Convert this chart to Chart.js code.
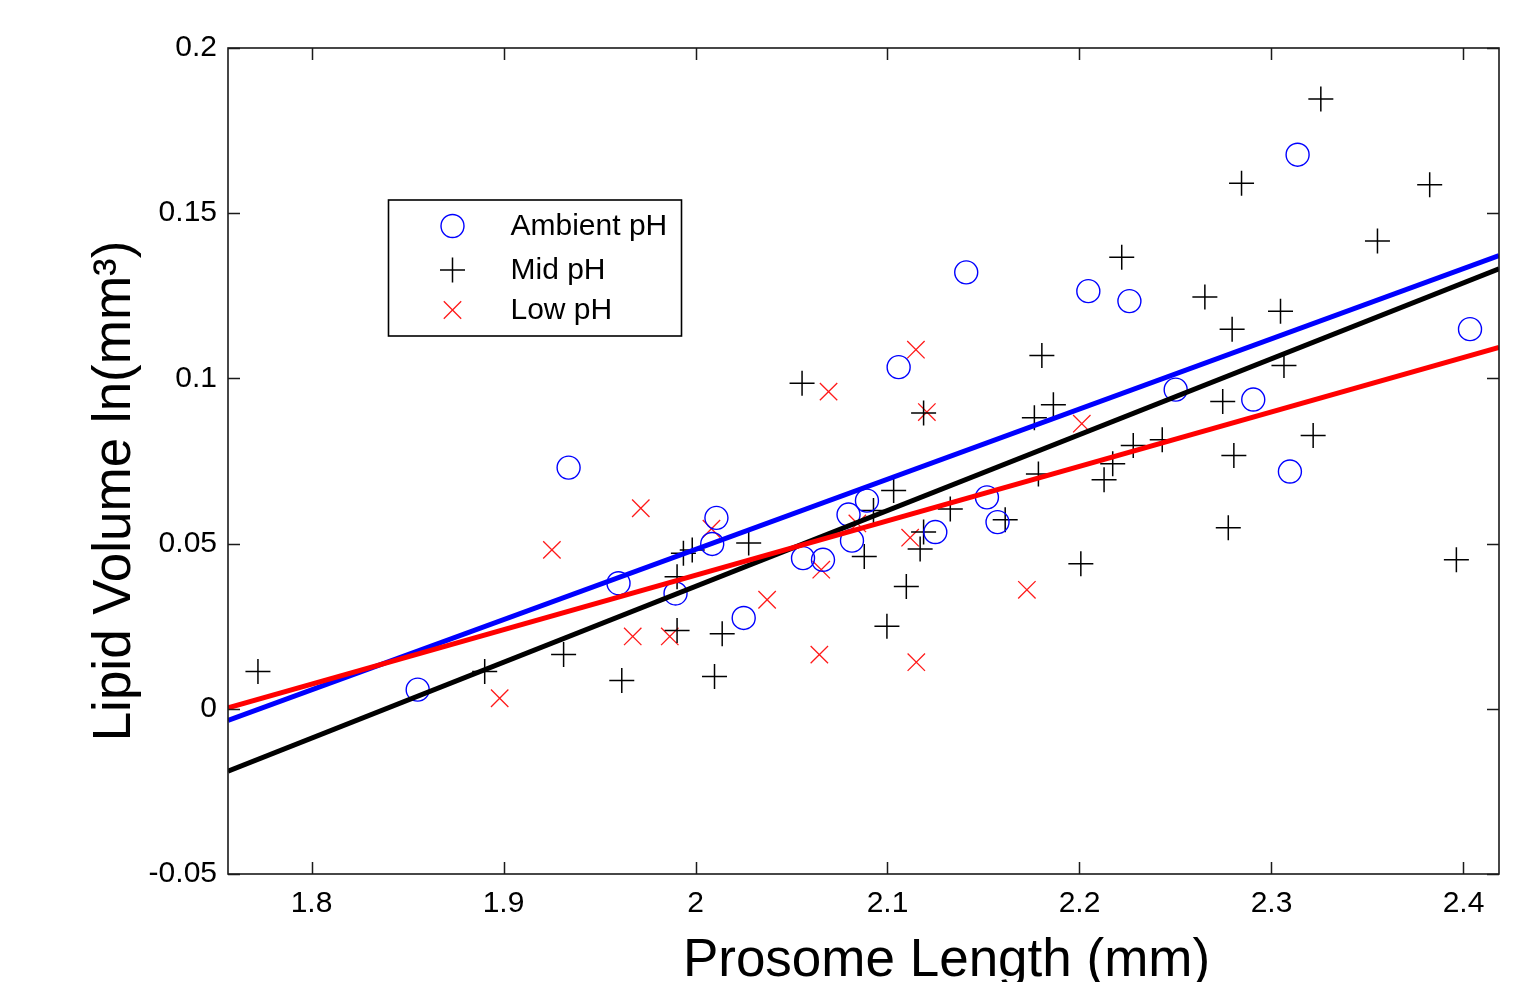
<!DOCTYPE html>
<html>
<head>
<meta charset="utf-8">
<script src="https://cdn.jsdelivr.net/npm/chart.js@4/dist/chart.umd.min.js"></script>
<style>
  html, body { margin: 0; padding: 0; background: #ffffff; }
  #wrap { width: 1531px; height: 982px; }
</style>
</head>
<body>
<div id="wrap"><canvas id="c" width="1531" height="982"></canvas></div>
<script>
// ---- Data ----
const xTicks = [1.8, 1.9, 2, 2.1, 2.2, 2.3, 2.4];
const xTickLabels = ['1.8', '1.9', '2', '2.1', '2.2', '2.3', '2.4'];
const yTicks = [-0.05, 0, 0.05, 0.1, 0.15, 0.2];
const yTickLabels = ['-0.05', '0', '0.05', '0.1', '0.15', '0.2'];
const xRange = [1.7565, 2.4185];
const yRange = [-0.05, 0.2];

const ambientX = [1.8553, 1.9339, 1.9599, 1.9896, 2.0087, 2.0109, 2.0251, 2.0560, 2.0664, 2.0797, 2.0815, 2.0893, 2.1058, 2.1249, 2.1410, 2.1518, 2.1573, 2.2046, 2.2260, 2.2501, 2.2905, 2.3096, 2.3136, 2.4034];
const ambientY = [0.0058, 0.0730, 0.0380, 0.0349, 0.0499, 0.0578, 0.0275, 0.0456, 0.0451, 0.0588, 0.0509, 0.0630, 0.1034, 0.0535, 0.1321, 0.0640, 0.0565, 0.1264, 0.1234, 0.0966, 0.0936, 0.0718, 0.1677, 0.1149];

const midX = [1.7721, 1.8902, 1.9313, 1.9616, 1.9904, 1.9904, 1.9937, 1.9983, 2.0099, 2.0139, 2.0277, 2.0555, 2.0879, 2.0927, 2.0997, 2.1032, 2.1098, 2.1170, 2.1188, 2.1188, 2.1327, 2.1613, 2.1765, 2.1786, 2.1804, 2.1864, 2.2007, 2.2128, 2.2173, 2.2220, 2.2280, 2.2431, 2.2653, 2.2746, 2.2775, 2.2795, 2.2804, 2.2844, 2.3047, 2.3065, 2.3217, 2.3257, 2.3552, 2.3824, 2.3963];
const midY = [0.0113, 0.0113, 0.0164, 0.0086, 0.0400, 0.0237, 0.0471, 0.0481, 0.0098, 0.0227, 0.0502, 0.0985, 0.0461, 0.0600, 0.0250, 0.0661, 0.0370, 0.0484, 0.0535, 0.0895, 0.0605, 0.0572, 0.0881, 0.0711, 0.1069, 0.0920, 0.0439, 0.0693, 0.0742, 0.1367, 0.0797, 0.0814, 0.1246, 0.0930, 0.0548, 0.1149, 0.0767, 0.1591, 0.1203, 0.1039, 0.0827, 0.1846, 0.1416, 0.1586, 0.0451];

const lowX = [1.8980, 1.9252, 1.9673, 1.9715, 1.9866, 2.0083, 2.0373, 2.0645, 2.0655, 2.0693, 2.0843, 2.1118, 2.1150, 2.1148, 2.1205, 2.1726, 2.2012];
const lowY = [0.0032, 0.0481, 0.0219, 0.0607, 0.0219, 0.0545, 0.0330, 0.0164, 0.0421, 0.0960, 0.0561, 0.0518, 0.0141, 0.1087, 0.0898, 0.0360, 0.0863];

// fitted lines, values read at the two plot edges
const fitX = [1.7565, 2.4185];
const ambientFitY = [-0.0035, 0.1372];
const midFitY = [-0.0189, 0.1332];
const lowFitY = [0.0003, 0.1094];

const seriesLabels = ['Ambient pH', 'Mid pH', 'Low pH'];
const xTitle = 'Prosome Length (mm)';
const yTitle = 'Lipid Volume ln(mm\u00B3)';

// ---- build ----
const FONT = "'Liberation Sans', Arial, Helvetica, sans-serif";
const pts = (xs, ys) => xs.map((x, i) => ({ x: x, y: ys[i] }));

const datasets = [
  { label: seriesLabels[0], data: pts(ambientX, ambientY), pointStyle: 'circle', pointRadius: 11.5, pointHoverRadius: 11.5,
    borderColor: '#0000ff', backgroundColor: 'rgba(0,0,0,0)', pointBorderWidth: 1.4, borderWidth: 1.4, showLine: false, order: 10 },
  { label: seriesLabels[1], data: pts(midX, midY), pointStyle: 'cross', pointRadius: 12.5, pointHoverRadius: 12.5,
    borderColor: '#000000', backgroundColor: '#000000', pointBorderWidth: 1.5, borderWidth: 1.5, showLine: false, order: 11 },
  { label: seriesLabels[2], data: pts(lowX, lowY), pointStyle: 'crossRot', pointRadius: 12.3, pointHoverRadius: 12.3,
    borderColor: '#ff1a1a', backgroundColor: '#ff1a1a', pointBorderWidth: 1.3, borderWidth: 1.3, showLine: false, order: 12 },
  { label: 'fit-ambient', data: pts(fitX, ambientFitY), showLine: true, pointRadius: 0, borderColor: '#0000ff', borderWidth: 5, order: 3, isFit: true },
  { label: 'fit-mid', data: pts(fitX, midFitY), showLine: true, pointRadius: 0, borderColor: '#000000', borderWidth: 5, order: 2, isFit: true },
  { label: 'fit-low', data: pts(fitX, lowFitY), showLine: true, pointRadius: 0, borderColor: '#ff0000', borderWidth: 5, order: 1, isFit: true }
];

const decorPlugin = {
  id: 'decor',
  afterDraw(chart) {
    const ctx = chart.ctx;
    const a = chart.chartArea;
    const xs = chart.scales.x, ys = chart.scales.y;
    ctx.save();
    // frame
    ctx.strokeStyle = '#1a1a1a';
    ctx.lineWidth = 1.6;
    ctx.strokeRect(a.left, a.top, a.right - a.left, a.bottom - a.top);
    // inward ticks on all four sides
    const TL = 12;
    ctx.lineWidth = 1.5;
    ctx.beginPath();
    xTicks.forEach(v => {
      const p = Math.round(xs.getPixelForValue(v)) + 0.5;
      ctx.moveTo(p, a.bottom); ctx.lineTo(p, a.bottom - TL);
      ctx.moveTo(p, a.top); ctx.lineTo(p, a.top + TL);
    });
    yTicks.forEach(v => {
      const p = Math.round(ys.getPixelForValue(v)) + 0.5;
      ctx.moveTo(a.left, p); ctx.lineTo(a.left + TL, p);
      ctx.moveTo(a.right, p); ctx.lineTo(a.right - TL, p);
    });
    ctx.stroke();

    // axis titles
    ctx.fillStyle = '#000';
    ctx.font = '53px ' + FONT;
    ctx.textAlign = 'center';
    ctx.textBaseline = 'alphabetic';
    ctx.fillText(xTitle, (a.left + a.right) / 2 + 83, a.bottom + 102);
    ctx.save();
    ctx.translate(a.left - 98, (a.top + a.bottom) / 2 + 30);
    ctx.rotate(-Math.PI / 2);
    ctx.fillText(yTitle, 0, 0);
    ctx.restore();

    // legend box (inside plot)
    const lx = a.left + 160.5, ly = a.top + 152, lw = 293, lh = 136;
    ctx.fillStyle = '#fff';
    ctx.fillRect(lx, ly, lw, lh);
    ctx.strokeStyle = '#000';
    ctx.lineWidth = 1.6;
    ctx.strokeRect(lx, ly, lw, lh);
    const rows = [ly + 26, ly + 70, ly + 110];
    const mx = lx + 64;
    chart.data.datasets.filter(d => !d.isFit).forEach((d, i) => {
      const cy = rows[i];
      const r = d.pointRadius;
      ctx.strokeStyle = d.borderColor;
      ctx.lineWidth = d.pointBorderWidth;
      ctx.beginPath();
      if (d.pointStyle === 'circle') {
        ctx.arc(mx, cy, r, 0, Math.PI * 2);
      } else if (d.pointStyle === 'cross') {
        ctx.moveTo(mx - r, cy); ctx.lineTo(mx + r, cy);
        ctx.moveTo(mx, cy - r); ctx.lineTo(mx, cy + r);
      } else {
        const o = r * Math.SQRT1_2;
        ctx.moveTo(mx - o, cy - o); ctx.lineTo(mx + o, cy + o);
        ctx.moveTo(mx - o, cy + o); ctx.lineTo(mx + o, cy - o);
      }
      ctx.stroke();
      ctx.fillStyle = '#000';
      ctx.font = '30px ' + FONT;
      ctx.textAlign = 'left';
      ctx.textBaseline = 'middle';
      ctx.fillText(d.label, lx + 122, cy + 1);
    });
    ctx.restore();
  }
};

new Chart(document.getElementById('c'), {
  type: 'scatter',
  data: { datasets: datasets },
  options: {
    responsive: false,
    animation: false,
    events: [],
    layout: { padding: { left: 0, right: 32, top: 48, bottom: 0 } },
    plugins: { legend: { display: false }, tooltip: { enabled: false } },
    scales: {
      x: {
        type: 'linear', min: xRange[0], max: xRange[1],
        afterBuildTicks: s => { s.ticks = xTicks.map(v => ({ value: v })); },
        afterFit: s => { s.height = 108; },
        grid: { display: false, drawTicks: false },
        border: { display: false },
        ticks: { autoSkip: false, maxRotation: 0, padding: 12, color: '#000',
          font: { family: FONT, size: 30 },
          callback: v => xTickLabels[xTicks.indexOf(v)] }
      },
      y: {
        type: 'linear', min: yRange[0], max: yRange[1],
        afterBuildTicks: s => { s.ticks = yTicks.map(v => ({ value: v })); },
        afterFit: s => { s.width = 228; },
        grid: { display: false, drawTicks: false },
        border: { display: false },
        ticks: { autoSkip: false, padding: 11, color: '#000',
          font: { family: FONT, size: 30 },
          callback: v => yTickLabels[yTicks.indexOf(v)] }
      }
    }
  },
  plugins: [decorPlugin]
});
</script>
</body>
</html>
